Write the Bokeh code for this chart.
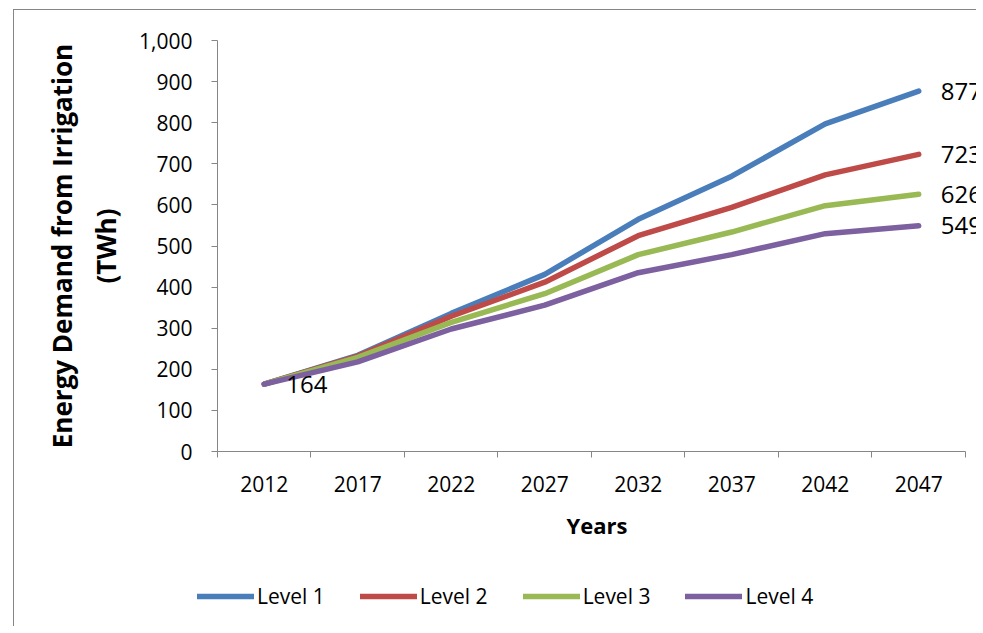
from bokeh.plotting import figure
from bokeh.layouts import column
from bokeh.models import (ColumnDataSource, Range1d, FixedTicker, NumeralTickFormatter,
                          LinearAxis, Legend, LegendItem)
from bokeh.core.properties import value
from bokeh.embed import file_html
from bokeh.resources import INLINE

years = [2012, 2017, 2022, 2027, 2032, 2037, 2042, 2047]
level1 = [164, 234, 336, 431, 565, 670, 797, 877]
level2 = [164, 232, 329, 412, 525, 594, 673, 723]
level3 = [164, 229, 314, 384, 479, 534, 598, 626]
level4 = [164, 218, 298, 356, 435, 479, 530, 549]
series_names = ["Level 1", "Level 2", "Level 3", "Level 4"]
colors = ["#4A7EBB", "#BE4B48", "#98B954", "#7D60A0"]
y_ticks = [0, 100, 200, 300, 400, 500, 600, 700, 800, 900, 1000]

FONT = "Open Sans"
GRAY = "#868686"

x_lo = years[0] - 2.5
x_hi = years[-1] + 2.5
all_levels = [level1, level2, level3, level4]

p = figure(width=962, height=560, output_backend="svg", toolbar_location=None,
           x_range=Range1d(x_lo, x_hi + 0.59), y_range=Range1d(0, 1000),
           min_border_left=203, min_border_top=30, min_border_right=0, min_border_bottom=119,
           background_fill_color="white", border_fill_color="white")
p.outline_line_color = None
p.grid.visible = False

# x axis: labels at category centres, ticks at boundaries
xa = p.xaxis[0]
xa.bounds = (x_lo, x_hi)
xa.ticker = FixedTicker(ticks=years, minor_ticks=[y - 2.5 for y in years] + [x_hi])
xa.major_tick_line_color = None
xa.major_tick_out = 0
xa.major_tick_in = 0
xa.minor_tick_line_color = GRAY
xa.minor_tick_out = 6
xa.minor_tick_in = 0
xa.axis_line_color = GRAY
xa.major_label_text_font = FONT
xa.major_label_text_font_size = "21px"
xa.major_label_text_color = "black"
xa.major_label_standoff = 18
xa.axis_label = "Years"
xa.axis_label_text_font = FONT
xa.axis_label_text_font_style = "bold"
xa.axis_label_text_font_size = "22px"
xa.axis_label_text_color = "black"
xa.axis_label_standoff = 15

ya = p.yaxis[0]
ya.ticker = FixedTicker(ticks=y_ticks)
ya.formatter = NumeralTickFormatter(format="0,0")
ya.minor_tick_line_color = None
ya.major_tick_out = 6
ya.major_tick_in = 0
ya.major_tick_line_color = GRAY
ya.axis_line_color = GRAY
ya.major_label_text_font = FONT
ya.major_label_text_font_size = "21px"
ya.major_label_text_color = "black"
ya.major_label_standoff = 19
ya.axis_label = "(TWh)"
ya.axis_label_text_font = FONT
ya.axis_label_text_font_style = "bold"
ya.axis_label_text_font_size = "26px"
ya.axis_label_text_color = "black"
ya.axis_label_standoff = 12

ya2 = LinearAxis(ticker=FixedTicker(ticks=[]), axis_line_color=None,
                 major_tick_line_color=None, minor_tick_line_color=None,
                 major_label_text_font_size="0px",
                 axis_label="Energy Demand from Irrigation",
                 axis_label_text_font=FONT, axis_label_text_font_style="bold",
                 axis_label_text_font_size="26px", axis_label_text_color="black",
                 axis_label_standoff=6)
p.add_layout(ya2, "left")

for vals, c in zip(all_levels, colors):
    src = ColumnDataSource(dict(x=years, y=vals))
    p.line("x", "y", source=src, line_color=c, line_width=5.5, line_cap="round",
           line_join="round")

lab_x = [years[0]] + [years[-1]] * 4
lab_y = [level1[0], level1[-1], level2[-1], level3[-1], level4[-1]]
lab_src = ColumnDataSource(dict(x=lab_x, y=lab_y, t=[str(v) for v in lab_y]))
p.text("x", "y", text="t", source=lab_src, x_offset=22, text_baseline="middle",
       text_align="left", text_font=value(FONT), text_font_size="24px", text_color="black")

# legend strip below the chart (its series lie outside this strip's view)
q = figure(width=962, height=56, output_backend="svg", toolbar_location=None,
           x_range=Range1d(0, 1), y_range=Range1d(0, 1),
           min_border=0, background_fill_color="white", border_fill_color="white")
q.frame_align = False
q.axis.visible = False
q.grid.visible = False
q.outline_line_color = None
items = []
for name, vals, c in zip(series_names, all_levels, colors):
    r = q.line(x=years, y=vals, line_color=c, line_width=5.5, line_cap="round")
    items.append(LegendItem(label=name, renderers=[r]))
legend = Legend(items=items, orientation="horizontal", location=(183, 16),
                glyph_width=57, glyph_height=20, label_standoff=3, spacing=35,
                padding=0, margin=0, label_text_font=FONT, label_text_font_size="21px",
                label_text_color="black",
                border_line_color=None, background_fill_alpha=0)
q.add_layout(legend, "center")

layout = column(p, q, spacing=0)
layout.styles = {"margin-left": "13px", "margin-top": "9px",
                 "border-left": "1px solid " + GRAY, "border-top": "1px solid " + GRAY}

open("out.html", "w").write(file_html(layout, INLINE))
